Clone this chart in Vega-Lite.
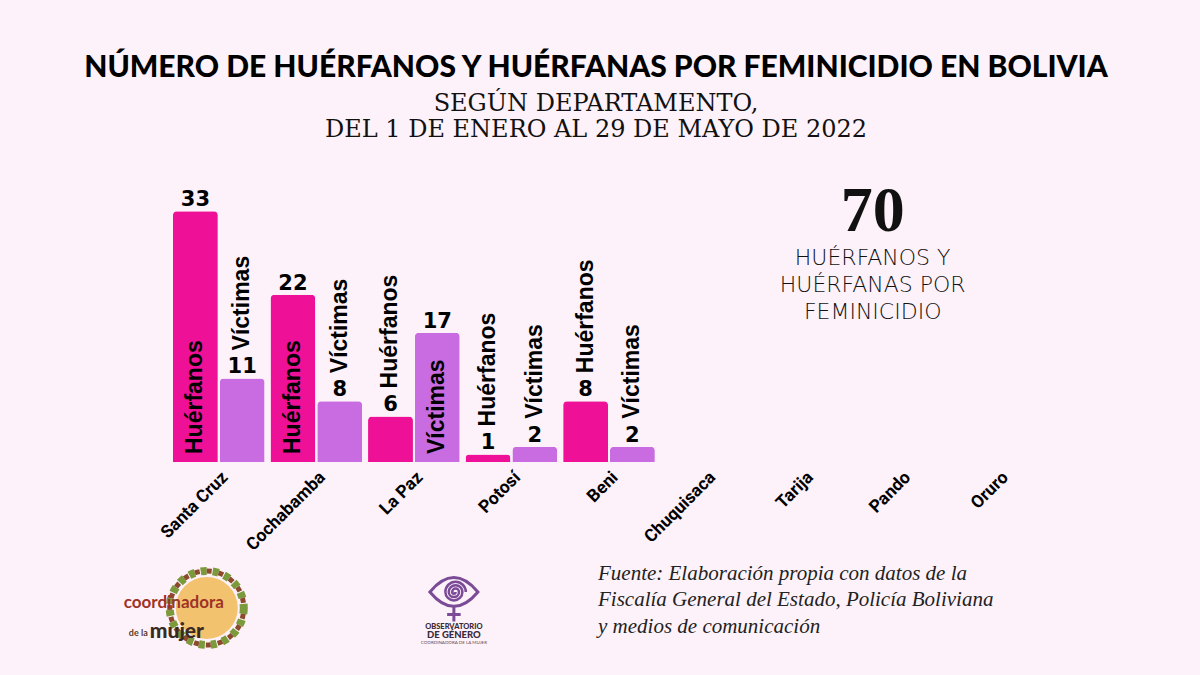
{
  "$schema": "https://vega.github.io/schema/vega-lite/v6.json",
  "autosize": {"type": "none"},
  "width": 878,
  "height": 304,
  "padding": {"left": 170, "top": 158, "right": 152, "bottom": 213},
  "background": "#fdf2f9",
  "config": {"view": {"stroke": null}},
  "title": {
    "text": "NÚMERO DE HUÉRFANOS Y HUÉRFANAS POR FEMINICIDIO EN BOLIVIA",
    "subtitle": ["SEGÚN DEPARTAMENTO,", "DEL 1 DE ENERO AL 29 DE MAYO DE 2022"],
    "anchor": "middle",
    "dx": -13,
    "offset": 16,
    "font": "Lato",
    "fontSize": 30,
    "fontWeight": 900,
    "color": "#000000",
    "subtitleFont": "DejaVu Serif",
    "subtitleFontSize": 24,
    "subtitleColor": "#111111",
    "subtitleLineHeight": 26,
    "subtitlePadding": 9
  },
  "datasets": {
    "feminicidio": [
      {"departamento": "Santa Cruz", "serie": "Huérfanos", "valor": 33},
      {"departamento": "Santa Cruz", "serie": "Víctimas", "valor": 11},
      {"departamento": "Cochabamba", "serie": "Huérfanos", "valor": 22},
      {"departamento": "Cochabamba", "serie": "Víctimas", "valor": 8},
      {"departamento": "La Paz", "serie": "Huérfanos", "valor": 6},
      {"departamento": "La Paz", "serie": "Víctimas", "valor": 17},
      {"departamento": "Potosí", "serie": "Huérfanos", "valor": 1},
      {"departamento": "Potosí", "serie": "Víctimas", "valor": 2},
      {"departamento": "Beni", "serie": "Huérfanos", "valor": 8},
      {"departamento": "Beni", "serie": "Víctimas", "valor": 2}
    ]
  },
  "data": {"name": "feminicidio"},
  "layer": [
    {
      "mark": {"type": "bar", "cornerRadiusTopLeft": 4, "cornerRadiusTopRight": 4},
      "encoding": {
        "x": {
          "field": "departamento",
          "type": "nominal",
          "scale": {
            "domain": ["Santa Cruz", "Cochabamba", "La Paz", "Potosí", "Beni", "Chuquisaca", "Tarija", "Pando", "Oruro"],
            "paddingInner": 0.06,
            "paddingOuter": 0.03
          },
          "axis": {
            "title": null,
            "labelAngle": -45,
            "labelFont": "Roboto",
            "labelFontWeight": "bold",
            "labelFontSize": 17.5,
            "labelColor": "#000000",
            "domain": false,
            "ticks": false,
            "labelPadding": 6
          }
        },
        "xOffset": {
          "field": "serie",
          "type": "nominal",
          "scale": {"domain": ["Huérfanos", "Víctimas"], "paddingInner": 0.04}
        },
        "y": {
          "field": "valor",
          "type": "quantitative",
          "scale": {"domain": [0, 40], "nice": false},
          "axis": null
        },
        "color": {
          "field": "serie",
          "type": "nominal",
          "scale": {"domain": ["Huérfanos", "Víctimas"], "range": ["#ee1198", "#c96be1"]},
          "legend": null
        }
      }
    },
    {
      "mark": {"type": "text", "baseline": "alphabetic", "dy": -5, "font": "DejaVu Sans", "fontWeight": "bold", "fontSize": 21, "color": "#000000"},
      "encoding": {
        "x": {"field": "departamento", "type": "nominal"},
        "xOffset": {"field": "serie", "type": "nominal"},
        "y": {"field": "valor", "type": "quantitative"},
        "text": {"field": "valor", "type": "quantitative"}
      }
    },
    {
      "transform": [{"filter": "datum.valor >= 17"}],
      "mark": {"type": "text", "angle": 270, "align": "left", "baseline": "middle", "dx": 8, "font": "Liberation Sans", "fontWeight": "bold", "fontSize": 23, "color": "#000000"},
      "encoding": {
        "x": {"field": "departamento", "type": "nominal"},
        "xOffset": {"field": "serie", "type": "nominal"},
        "y": {"datum": 0, "type": "quantitative"},
        "text": {"field": "serie", "type": "nominal"}
      }
    },
    {
      "transform": [{"filter": "datum.valor < 17"}],
      "mark": {"type": "text", "angle": 270, "align": "left", "baseline": "middle", "dx": 28, "font": "Liberation Sans", "fontWeight": "bold", "fontSize": 23, "color": "#000000"},
      "encoding": {
        "x": {"field": "departamento", "type": "nominal"},
        "xOffset": {"field": "serie", "type": "nominal"},
        "y": {"field": "valor", "type": "quantitative"},
        "text": {"field": "serie", "type": "nominal"}
      }
    },
    {
      "transform": [{"filter": "datum.serie === 'Huérfanos'"}],
      "mark": {"type": "text", "align": "center", "baseline": "alphabetic", "dx": -29, "font": "Liberation Serif", "fontWeight": "bold", "fontSize": 64, "color": "#111111"},
      "encoding": {
        "x": {"datum": "Pando", "type": "nominal"},
        "y": {"datum": 30.4, "type": "quantitative"},
        "text": {"aggregate": "sum", "field": "valor", "type": "quantitative"}
      }
    },
    {
      "data": {"values": [{}]},
      "mark": {
        "type": "text",
        "text": ["HUÉRFANOS Y", "HUÉRFANAS POR", "FEMINICIDIO"],
        "align": "center",
        "baseline": "alphabetic",
        "lineHeight": 27,
        "dx": -29,
        "font": "DejaVu Sans",
        "fontWeight": 300,
        "fontSize": 22,
        "color": "#111111"
      },
      "encoding": {
        "x": {"datum": "Pando", "type": "nominal"},
        "y": {"datum": 25.9, "type": "quantitative"}
      }
    },
    {
      "data": {"values": [{}]},
      "mark": {
        "type": "text",
        "text": ["Fuente: Elaboración propia con datos de la", "Fiscalía General del Estado, Policía Boliviana", "y medios de comunicación"],
        "align": "left",
        "baseline": "alphabetic",
        "lineHeight": 26.5,
        "dx": -11,
        "font": "Liberation Serif",
        "fontStyle": "italic",
        "fontSize": 21,
        "color": "#222222"
      },
      "encoding": {
        "x": {"datum": "Beni", "type": "nominal"},
        "y": {"datum": -15.5, "type": "quantitative"}
      }
    },
    {
      "data": {"values": [{}]},
      "mark": {"type": "point", "shape": "circle", "filled": true, "size": 3844, "color": "#f2bd5e", "opacity": 0.9, "xOffset": -12},
      "encoding": {
        "x": {"datum": "Santa Cruz", "type": "nominal"},
        "y": {"datum": -19.2, "type": "quantitative"}
      }
    },
    {
      "data": {"values": [{}]},
      "mark": {"type": "point", "shape": "circle", "filled": false, "size": 5476, "stroke": "#7a9a3c", "strokeWidth": 8, "strokeDash": [6, 6], "opacity": 1, "xOffset": -12},
      "encoding": {
        "x": {"datum": "Santa Cruz", "type": "nominal"},
        "y": {"datum": -19.2, "type": "quantitative"}
      }
    },
    {
      "data": {"values": [{}]},
      "mark": {"type": "point", "shape": "circle", "filled": false, "size": 5476, "stroke": "#8b4a2c", "strokeWidth": 5, "strokeDash": [5, 7], "strokeDashOffset": 6, "opacity": 1, "xOffset": -12},
      "encoding": {
        "x": {"datum": "Santa Cruz", "type": "nominal"},
        "y": {"datum": -19.2, "type": "quantitative"}
      }
    },
    {
      "data": {"values": [{}]},
      "mark": {"type": "text", "text": "coordinadora", "align": "center", "baseline": "alphabetic", "dx": -45, "font": "Lato", "fontWeight": "bold", "fontSize": 17, "color": "#9e3327"},
      "encoding": {
        "x": {"datum": "Santa Cruz", "type": "nominal"},
        "y": {"datum": -19.2, "type": "quantitative"}
      }
    },
    {
      "data": {"values": [{}]},
      "mark": {"type": "text", "text": "de la", "align": "right", "baseline": "alphabetic", "dx": -71, "font": "Lato", "fontWeight": "bold", "fontSize": 9, "color": "#5a3a2a"},
      "encoding": {
        "x": {"datum": "Santa Cruz", "type": "nominal"},
        "y": {"datum": -22.9, "type": "quantitative"}
      }
    },
    {
      "data": {"values": [{}]},
      "mark": {"type": "text", "text": "mujer", "align": "left", "baseline": "alphabetic", "dx": -69, "font": "Lato", "fontWeight": 900, "fontSize": 21, "color": "#3a2a22"},
      "encoding": {
        "x": {"datum": "Santa Cruz", "type": "nominal"},
        "y": {"datum": -23.1, "type": "quantitative"}
      }
    },
    {
      "data": {"values": [{}]},
      "mark": {"type": "point", "shape": "M-1,0Q0,-1.2 1,0Q0,1.2 -1,0Z", "filled": false, "size": 2304, "stroke": "#7b4b98", "strokeWidth": 3, "opacity": 1, "xOffset": 40},
      "encoding": {
        "x": {"datum": "La Paz", "type": "nominal"},
        "y": {"datum": -17.1, "type": "quantitative"}
      }
    },
    {
      "data": {"values": [{}]},
      "mark": {"type": "point", "shape": "M0.1,0A0.1,0.1 0 0 1 -0.1,0A0.2,0.2 0 0 1 0.3,0A0.3,0.3 0 0 1 -0.3,0A0.4,0.4 0 0 1 0.5,0A0.5,0.5 0 0 1 -0.5,0A0.6,0.6 0 0 1 0.7,0", "filled": false, "size": 1156, "stroke": "#7b4b98", "strokeWidth": 2.5, "opacity": 1, "xOffset": 40},
      "encoding": {
        "x": {"datum": "La Paz", "type": "nominal"},
        "y": {"datum": -17.1, "type": "quantitative"}
      }
    },
    {
      "data": {"values": [{}]},
      "mark": {"type": "point", "shape": "M0,-1L0,1M-0.9,0.05L0.9,0.05", "filled": false, "size": 225, "stroke": "#7b4b98", "strokeWidth": 3, "opacity": 1, "xOffset": 40},
      "encoding": {
        "x": {"datum": "La Paz", "type": "nominal"},
        "y": {"datum": -20.0, "type": "quantitative"}
      }
    },
    {
      "data": {"values": [{}]},
      "mark": {"type": "text", "text": "OBSERVATORIO", "align": "center", "baseline": "alphabetic", "dx": 40, "font": "Lato", "fontWeight": 900, "fontSize": 7.5, "color": "#3a2a3a"},
      "encoding": {
        "x": {"datum": "La Paz", "type": "nominal"},
        "y": {"datum": -21.97, "type": "quantitative"}
      }
    },
    {
      "data": {"values": [{}]},
      "mark": {"type": "text", "text": "DE GÉNERO", "align": "center", "baseline": "alphabetic", "dx": 40, "font": "Lato", "fontWeight": 900, "fontSize": 9.5, "color": "#3a2a3a"},
      "encoding": {
        "x": {"datum": "La Paz", "type": "nominal"},
        "y": {"datum": -23.16, "type": "quantitative"}
      }
    },
    {
      "data": {"values": [{}]},
      "mark": {"type": "text", "text": "COORDINADORA DE LA MUJER", "align": "center", "baseline": "alphabetic", "dx": 40, "font": "Lato", "fontSize": 4.5, "color": "#5a4a5a"},
      "encoding": {
        "x": {"datum": "La Paz", "type": "nominal"},
        "y": {"datum": -23.9, "type": "quantitative"}
      }
    }
  ]
}
